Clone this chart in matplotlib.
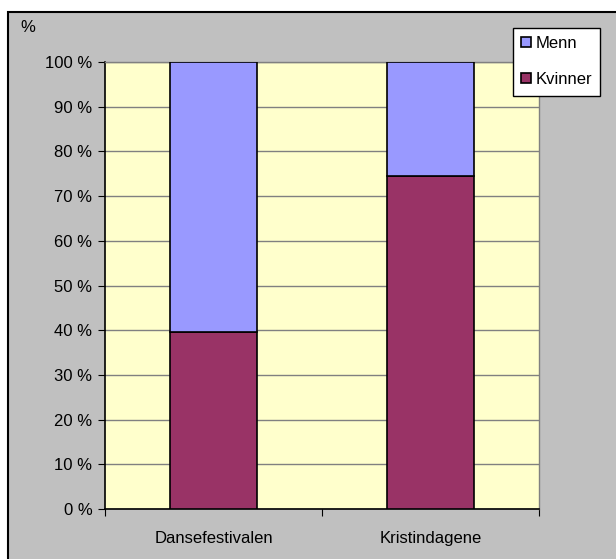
import matplotlib.pyplot as plt
from matplotlib.patches import Rectangle
import numpy as np

plt.rcParams['font.family'] = ['Liberation Sans', 'DejaVu Sans']

categories = ['Dansefestivalen', 'Kristindagene']
kvinner = [39.6, 74.6]
menn = [60.4, 25.4]
yticks = np.arange(0, 101, 10)
ytick_labels = [f'{v} %' for v in yticks]

W, H = 616, 559
fig = plt.figure(figsize=(W / 100, H / 100), dpi=100)
fig.patch.set_facecolor('white')

# gray chart area with black frame (cropped at right and bottom)
fig.patches.append(Rectangle((8 / W, -0.05), 1.1, 1 - 12 / H + 0.05,
                             transform=fig.transFigure, facecolor='#C0C0C0',
                             edgecolor='black', linewidth=1.5, zorder=-1))

ax = fig.add_axes([105 / W, 1 - 509 / H, (539 - 105) / W, (509 - 62) / H])
ax.set_facecolor('#FFFFCC')

x = np.arange(len(categories))
ax.bar(x, kvinner, width=0.4, color='#993366', edgecolor='black', linewidth=1.2,
       label='Kvinner', zorder=3)
ax.bar(x, menn, width=0.4, bottom=kvinner, color='#9999FF', edgecolor='black',
       linewidth=1.2, label='Menn', zorder=3)

ax.set_xlim(-0.5, 1.5)
ax.set_ylim(0, 100)
ax.set_yticks(yticks)
ax.set_yticklabels(ytick_labels, fontsize=12)
ax.yaxis.grid(True, color='#808080', linewidth=1)
ax.set_axisbelow(True)

ax.set_xticks([-0.5, 0.5, 1.5])
ax.set_xticklabels([])
ax.set_xticks(x, minor=True)
ax.set_xticklabels(categories, minor=True, fontsize=12)
ax.tick_params(axis='x', which='minor', length=0, pad=16)
ax.tick_params(axis='x', which='major', length=5, direction='out', color='black')
ax.tick_params(axis='y', length=5, direction='out', color='black', pad=4)

for s in ['left', 'bottom']:
    ax.spines[s].set_color('black')
    ax.spines[s].set_linewidth(1.2)
for s in ['right', 'top']:
    ax.spines[s].set_color('#808080')
    ax.spines[s].set_linewidth(1)

fig.text(20 / W, 1 - 28 / H, '%', fontsize=12, va='center', ha='left')

handles, labels = ax.get_legend_handles_labels()
leg = fig.legend(handles[::-1], labels[::-1], loc='upper left',
                 bbox_to_anchor=(513 / W, 1 - 28 / H), fontsize=12,
                 frameon=True, fancybox=False, edgecolor='black',
                 framealpha=1, handlelength=0.55, handleheight=0.55,
                 handletextpad=0.3, borderpad=0.5, labelspacing=1.25,
                 borderaxespad=0)
leg.get_frame().set_linewidth(1)

fig.savefig('out.png', dpi=100)
